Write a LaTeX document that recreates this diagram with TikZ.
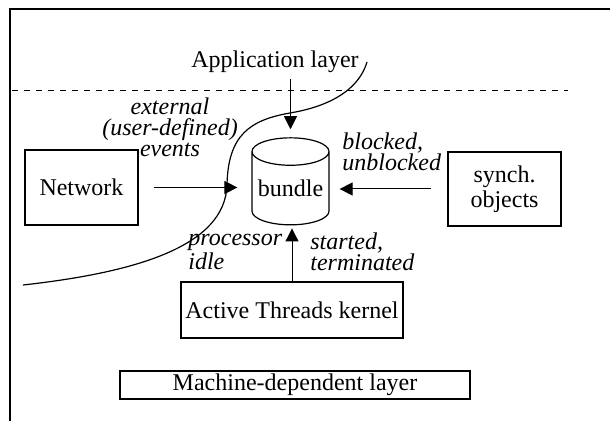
\documentclass[tikz,border=0pt]{standalone}
\usepackage{fontspec}
\setmainfont{Liberation Serif}
\usetikzlibrary{arrows.meta,shapes.geometric}

\begin{document}
\begin{tikzpicture}[
  x=0.5pt,
  y=-0.5pt,
  font=\fontsize{12}{12.5}\selectfont,
  box/.style={
    draw,
    line width=0.6pt,
    inner sep=0pt
  },
  store/.style={
    draw,
    line width=0.6pt,
    cylinder,
    shape border rotate=90,
    aspect=0.42,
    minimum width=38.5pt,
    minimum height=43.5pt,
    inner sep=0pt
  },
  event/.style={
    font=\fontsize{12}{10.5}\selectfont\itshape,
    inner sep=0pt,
    align=left
  },
  a/.style={
    -{Triangle[length=6.5pt,width=6.5pt]},
    line width=0.5pt
  }
  ]
  \useasboundingbox (0,0) rectangle (610,421);

  % frame, layer line and the boundary curve
  \draw [line width=1pt] (10,421) -- (10,9) -- (610,9);
  \draw [dash pattern=on 3pt off 3pt, line width=0.5pt] (12,91) -- (568,91);
  \draw [line width=0.6pt] (367,62) .. controls (357,95) and (320,108) .. (290,113)
    .. controls (250,120) and (228,135) .. (227,185)
    .. controls (225,245) and (140,272) .. (23,285);

  \node (app) [inner sep=3pt] at (275,62) {Application layer};
  \node (network) [box,minimum width=56.5pt,minimum height=37.5pt] at (81.5,187.5) {Network};
  \node (bundle) [store] at (290.5,188.5) {bundle};
  \node (synch) [box,minimum width=56.5pt,minimum height=37pt,align=center] at (504.5,189) {synch.\\objects};
  \node (kernel) [box,minimum width=111pt,minimum height=28pt] at (292,310) {Active Threads kernel};
  \node (machine) [box,minimum width=175pt,minimum height=14pt] at (295,385) {Machine-dependent layer};

  % event labels
  \node (external) [event,align=center] at (170,127) {external\\(user-defined)\\events};
  \node (blocked) [event,anchor=west] at (342,152) {blocked,\\unblocked};
  \node (idle) [event,anchor=west] at (188,252) {processor\\idle};
  \node (started) [event,anchor=west] at (310,252) {started,\\terminated};

  \draw [a,shorten >=4pt] (bundle.north |- app.south) to (bundle.north);
  \draw [a,shorten <=7.5pt,shorten >=7pt] (network.east) to (network.east -| bundle.west);
  \draw [a,shorten <=8pt,shorten >=5pt] (synch.west) to (synch.west -| bundle.east);
  \draw [a,shorten >=1.5pt] (kernel.north) to (kernel.north |- bundle.south);
\end{tikzpicture}
\end{document}
